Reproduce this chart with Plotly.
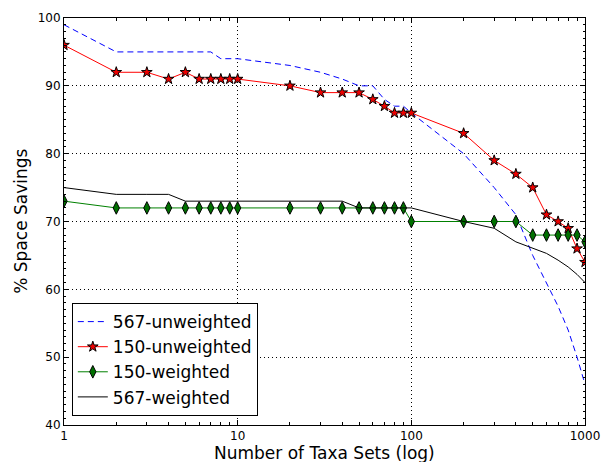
import plotly.graph_objects as go

x_sets = [1, 2, 3, 4, 5, 6, 7, 8, 9, 10, 20, 30, 40, 50, 60, 70, 80, 90,
          100, 200, 300, 400, 500, 600, 700, 800, 900, 1000]

u567 = [99, 95, 95, 95, 95, 95, 95, 94, 94, 94, 93, 92, 91, 90, 90, 88, 87, 87,
        86, 80, 75, 71, 65, 61, 57.5, 54, 50, 46]
u150 = [96, 92, 92, 91, 92, 91, 91, 91, 91, 91, 90, 89, 89, 89, 88, 87, 86, 86,
        86, 83, 79, 77, 75, 71, 70, 69, 66, 64]
w150 = [73, 72, 72, 72, 72, 72, 72, 72, 72, 72, 72, 72, 72, 72, 72, 72, 72, 72,
        70, 70, 70, 70, 68, 68, 68, 68, 68, 67]
w567 = [75, 74, 74, 74, 73, 73, 73, 73, 73, 73, 73, 73, 73, 72, 72, 72, 72, 72,
        72, 70, 69, 67, 66, 65.3, 64.3, 63.3, 62.2, 61]

x_ticks = [1, 10, 100, 1000]
x_tick_labels = ["1", "10", "100", "1000"]
x_minor = [2, 3, 4, 5, 6, 7, 8, 9, 20, 30, 40, 50, 60, 70, 80, 90,
           200, 300, 400, 500, 600, 700, 800, 900]
y_ticks = [40, 50, 60, 70, 80, 90, 100]

fig = go.Figure()
fig.add_trace(go.Scatter(x=x_sets, y=u567, mode="lines", name="567-unweighted",
                         line=dict(color="#0000ff", width=1, dash="6px,4px")))
fig.add_trace(go.Scatter(x=x_sets, y=u150, mode="lines+markers", name="150-unweighted",
                         line=dict(color="#ff0000", width=1),
                         marker=dict(symbol="star", size=8, color="#ee0000",
                                     line=dict(color="black", width=1))))
fig.add_trace(go.Scatter(x=x_sets, y=w150, mode="lines+markers", name="150-weighted",
                         line=dict(color="#008000", width=1),
                         marker=dict(symbol="diamond-tall", size=9, color="#007000",
                                     line=dict(color="black", width=1))))
fig.add_trace(go.Scatter(x=x_sets, y=w567, mode="lines", name="567-weighted",
                         line=dict(color="black", width=1)))

axis_common = dict(showline=True, linecolor="black", linewidth=1, mirror="ticks",
                   ticks="inside", ticklen=5, tickcolor="black",
                   showgrid=True, gridcolor="black", gridwidth=1, griddash="1px,3px",
                   zeroline=False, automargin=False,
                   tickfont=dict(size=12, color="black"))

fig.update_xaxes(type="log", range=[0, 3], tickvals=x_ticks, ticktext=x_tick_labels,
                 minor=dict(tickvals=x_minor, ticks="inside", ticklen=3, tickcolor="black",
                            showgrid=False),
                 **axis_common)
fig.update_yaxes(range=[40, 100], tickvals=y_ticks,
                 minor=dict(dtick=1, ticks="inside", ticklen=2, tickcolor="black",
                            showgrid=False),
                 **axis_common)

fig.add_annotation(text="Number of Taxa Sets (log)", xref="paper", yref="paper",
                   x=0.5, y=-0.068, xanchor="center", yanchor="middle",
                   showarrow=False, font=dict(size=17, color="black"))
fig.add_annotation(text="% Space Savings", xref="paper", yref="paper",
                   x=-0.084, y=0.5, xanchor="center", yanchor="middle", textangle=-90,
                   showarrow=False, font=dict(size=17, color="black"))

fig.update_layout(
    width=604, height=462,
    margin=dict(l=64, r=19, t=18, b=37),
    plot_bgcolor="white", paper_bgcolor="white",
    font=dict(family="DejaVu Sans", color="black"),
    legend=dict(x=0.015, y=0.022, xanchor="left", yanchor="bottom",
                bordercolor="black", borderwidth=1, bgcolor="white",
                font=dict(size=17, color="black"), tracegroupgap=0),
)

fig.write_html("out.html", config={"displayModeBar": False},
               post_script="document.body.style.margin='0';")
